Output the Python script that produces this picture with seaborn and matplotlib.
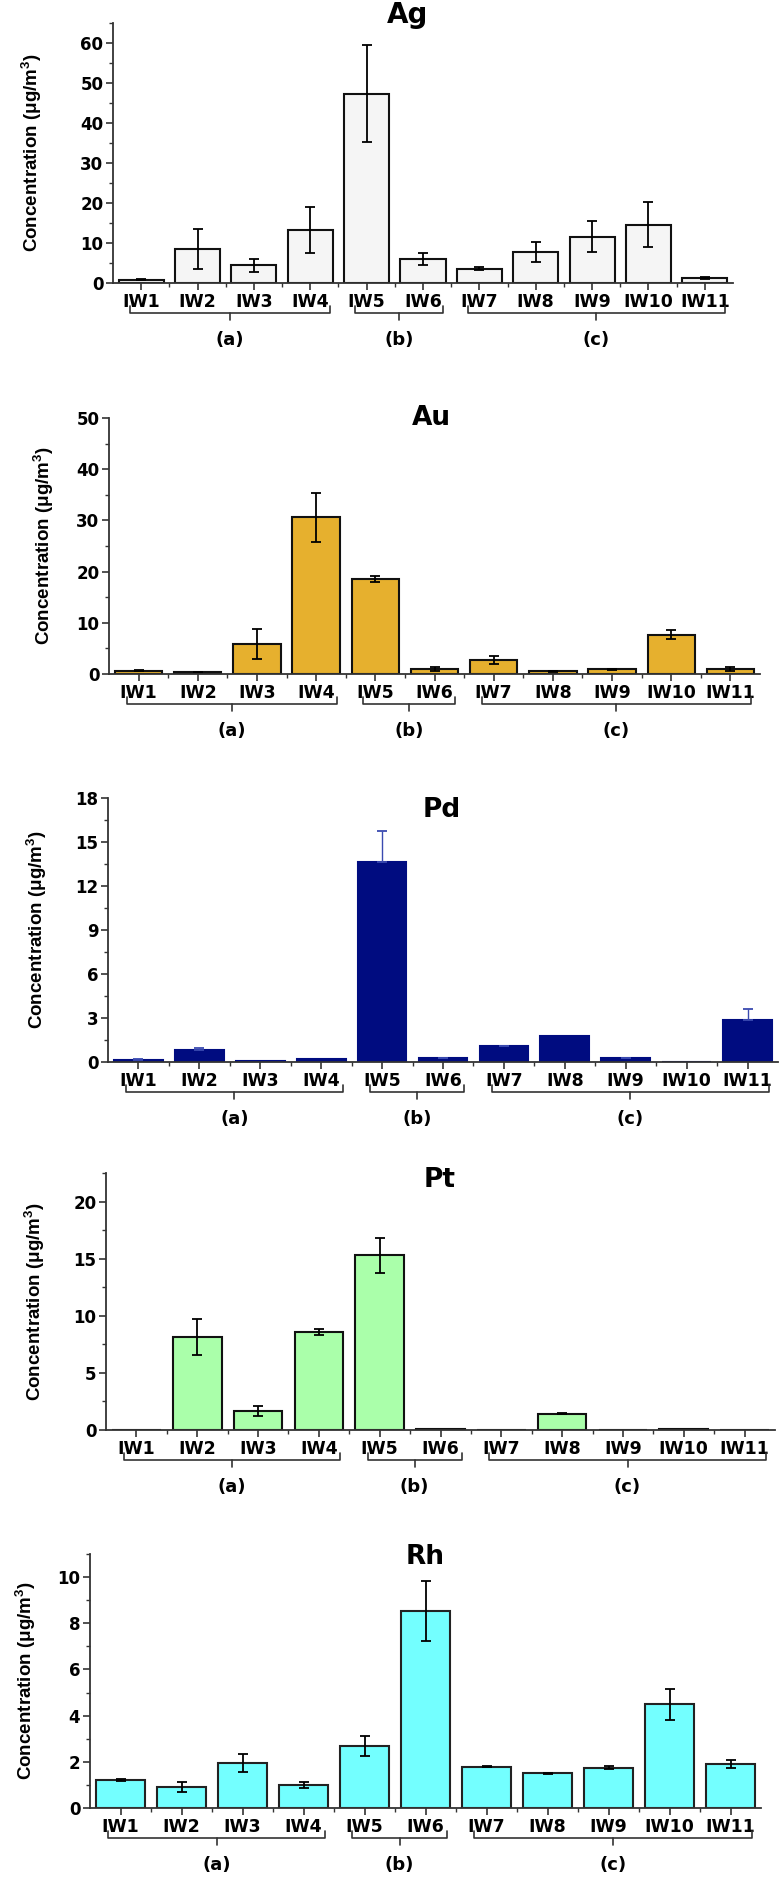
import numpy as np
import pandas as pd
import matplotlib
matplotlib.use('Agg')
import matplotlib.pyplot as plt
import matplotlib.transforms as mtransforms
from matplotlib.ticker import MultipleLocator, AutoMinorLocator
import seaborn as sns

sns.set_style('ticks')
plt.rcParams['font.family'] = ['DejaVu Sans']
plt.rcParams['font.weight'] = 'bold'
plt.rcParams['axes.labelweight'] = 'bold'
plt.rcParams['text.color'] = 'black'
plt.rcParams['axes.labelcolor'] = 'black'
plt.rcParams['xtick.labelcolor'] = 'black'
plt.rcParams['ytick.labelcolor'] = 'black'
plt.rcParams['mathtext.fontset'] = 'custom'
plt.rcParams['mathtext.bf'] = 'Liberation Sans:bold'
plt.rcParams['mathtext.default'] = 'bf'

# sampling sites and groups
sites = ['IW1', 'IW2', 'IW3', 'IW4', 'IW5', 'IW6', 'IW7', 'IW8', 'IW9', 'IW10', 'IW11']
groups = ['(a)', '(a)', '(a)', '(a)', '(b)', '(b)', '(c)', '(c)', '(c)', '(c)', '(c)']

# concentrations (ug/m3) and error (sd)
ag = [0.83, 8.45, 4.45, 13.3, 47.3, 6.0, 3.6, 7.8, 11.6, 14.6, 1.25]
ag_err = [0.15, 4.95, 1.6, 5.7, 12.1, 1.5, 0.3, 2.5, 3.9, 5.6, 0.25]
au = [0.65, 0.4, 5.85, 30.6, 18.5, 1.0, 2.75, 0.52, 0.9, 7.65, 0.9]
au_err = [0.05, 0.05, 2.95, 4.75, 0.6, 0.4, 0.8, 0.05, 0.15, 0.9, 0.4]
pd_vals = [0.16, 0.84, 0.07, 0.2, 13.67, 0.27, 1.07, 1.75, 0.27, 0.0, 2.89]
pd_err = [0.06, 0.12, 0.0, 0.0, 2.1, 0.03, 0.05, 0.0, 0.03, 0.0, 0.75]
pt = [0.0, 8.15, 1.67, 8.56, 15.28, 0.05, 0.02, 1.41, 0.0, 0.05, 0.02]
pt_err = [0.0, 1.6, 0.42, 0.28, 1.52, 0.0, 0.0, 0.05, 0.0, 0.0, 0.0]
rh = [1.2, 0.91, 1.94, 1.0, 2.7, 8.55, 1.78, 1.5, 1.75, 4.49, 1.9]
rh_err = [0.04, 0.2, 0.39, 0.12, 0.43, 1.3, 0.02, 0.03, 0.07, 0.68, 0.17]

# (element, values, errors, bar color, edge color, err color, upper only, ymax, ystep)
PANELS = [
    ('Ag', ag, ag_err, '#f5f5f5', '#111111', 'black', False, 65, 10),
    ('Au', au, au_err, '#e6b02e', '#111111', 'black', False, 50, 10),
    ('Pd', pd_vals, pd_err, '#000c80', '#000c80', '#3a4ab0', True, 18, 3),
    ('Pt', pt, pt_err, '#aaffaa', '#111111', 'black', False, 22.5, 5),
    ('Rh', rh, rh_err, '#73ffff', '#222222', 'black', False, 11, 2),
]

# axes boxes in pixels (left, right, top, bottom), title (x, baseline, size), ylabel x
W, H = 779, 1877
BOXES = [(113, 733, 23, 283), (109, 760, 418, 674), (108, 778, 798, 1062),
         (106, 775, 1173, 1430), (90, 761, 1554, 1808)]
TITLES = [(408, 23, 20), (431, 425, 19), (442, 817, 19), (440, 1187, 19), (425, 1564, 19)]
YLAB_X = [32, 44, 37, 35, 26]

fig = plt.figure(figsize=(W / 100, H / 100), dpi=100)

for i, (name, vals, err, col, ecol, errcol, upper, ymax, ystep) in enumerate(PANELS):
    l, r, t, b = BOXES[i]
    ax = fig.add_axes([l / W, 1 - b / H, (r - l) / W, (b - t) / H])
    df = pd.DataFrame({'site': sites, 'conc': vals, 'err': err})
    sns.barplot(data=df, x='site', y='conc', color=col, saturation=1, width=0.8,
                edgecolor=ecol, linewidth=1.5, errorbar=None, ax=ax)

    pos = np.arange(len(sites))
    e = np.array(err)
    m = e > 0
    yerr = [np.zeros(m.sum()), e[m]] if upper else e[m]
    ax.errorbar(pos[m], np.array(vals)[m], yerr=yerr, fmt='none', ecolor=errcol,
                elinewidth=1.3 if not upper else 1.0, capsize=3.5, capthick=1.3)

    ax.set_xlim(-0.5, len(sites) - 0.5)
    ax.set_ylim(0, ymax)
    ax.yaxis.set_major_locator(MultipleLocator(ystep))
    ax.yaxis.set_minor_locator(AutoMinorLocator(2))
    ax.set_xticks(pos[:-1] + 0.5, minor=True)
    sns.despine(ax=ax)
    for s in ['left', 'bottom']:
        ax.spines[s].set_linewidth(1.3)
        ax.spines[s].set_color('#333333')
    ax.tick_params(axis='both', which='major', direction='out', length=5, width=1.2,
                   color='#333333', pad=2)
    ax.tick_params(axis='x', which='major', labelsize=12.5)
    ax.tick_params(axis='y', which='major', labelsize=12)
    ax.tick_params(axis='both', which='minor', direction='out', length=3, width=1.0,
                   color='#333333')
    ax.set_xlabel('')
    ax.set_ylabel('Concentration (μg/m$^3$)', fontsize=13.5, family='Liberation Sans',
                  va='center')
    ax.yaxis.set_label_coords((YLAB_X[i] - l) / (r - l), 0.5)

    tx, ty, ts = TITLES[i]
    fig.text(tx / W, 1 - ty / H, name, ha='center', va='baseline', fontsize=ts,
             fontweight='bold')

    # group brackets under the site labels
    h = b - t
    trans = mtransforms.blended_transform_factory(ax.transData, ax.transAxes)
    for g in ['(a)', '(b)', '(c)']:
        idx = [k for k, gg in enumerate(groups) if gg == g]
        x0, x1 = idx[0] - 0.2, idx[-1] + 0.35
        xm = (x0 + x1) / 2
        yb, ye, yt, yl = -30 / h, -23 / h, -37 / h, -57 / h
        ax.plot([x0, x0, x1, x1], [ye, yb, yb, ye], color='#333333', lw=1.2,
                transform=trans, clip_on=False)
        ax.plot([xm, xm], [yb, yt], color='#333333', lw=1.2, transform=trans,
                clip_on=False)
        ax.text(xm, yl, g, transform=trans, ha='center', va='center', fontsize=13,
                fontweight='bold')

fig.savefig('out.png', dpi=100)
